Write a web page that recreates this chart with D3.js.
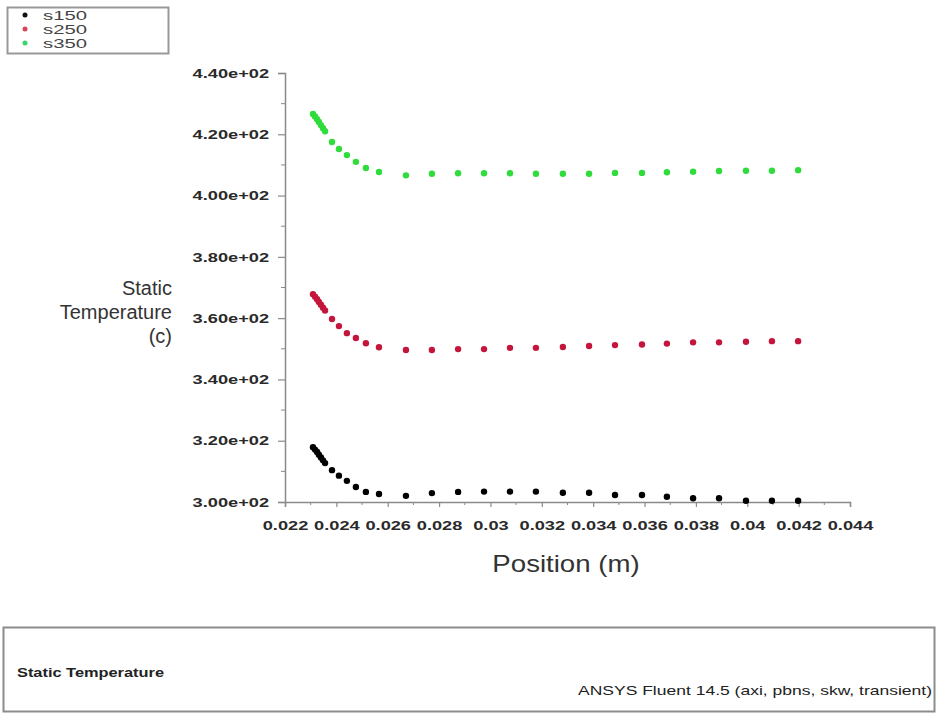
<!DOCTYPE html>
<html>
<head>
<meta charset="utf-8">
<script src="https://cdn.jsdelivr.net/npm/d3@7"></script>
<style>
  html, body { margin: 0; padding: 0; background: #fff; }
  svg { display: block; font-family: "Liberation Sans", Arial, sans-serif; }
</style>
</head>
<body>
<svg id="chart" width="937" height="715"></svg>
<script>
// Sample positions along the line (m)
const positions = [0.02309, 0.02317, 0.02325, 0.02332, 0.02340, 0.02348, 0.02356,
  0.02383, 0.02410, 0.02441, 0.02476, 0.02515, 0.02566, 0.02671, 0.02772, 0.02874,
  0.02975, 0.03076, 0.03177, 0.03282, 0.03384, 0.03485, 0.03590, 0.03687, 0.03789,
  0.03890, 0.03995, 0.04096, 0.04198];

// Static temperature (c) per case
const s150 = [317.9, 317.1, 316.3, 315.4, 314.5, 313.6, 312.7,
  310.4, 308.6, 306.9, 304.9, 303.3, 302.6, 302.0, 302.9, 303.3,
  303.4, 303.4, 303.4, 303.0, 303.0, 302.3, 302.3, 301.7, 301.2,
  301.2, 300.4, 300.4, 300.4];
const s250 = [367.8, 367.0, 366.2, 365.3, 364.4, 363.4, 362.5,
  359.7, 357.4, 355.1, 353.5, 351.8, 350.5, 349.6, 349.6, 349.9,
  349.9, 350.3, 350.3, 350.6, 350.9, 351.2, 351.4, 351.7, 352.1,
  352.1, 352.3, 352.5, 352.5];
const s350 = [426.6, 425.8, 424.9, 424.0, 423.0, 422.0, 421.0,
  417.5, 415.2, 413.2, 411.0, 409.0, 407.7, 406.6, 407.1, 407.3,
  407.3, 407.3, 407.1, 407.1, 407.1, 407.4, 407.4, 407.6, 407.8,
  408.0, 408.1, 408.1, 408.3];

const seriesNames = ["s150", "s250", "s350"];
const seriesColors = ["#000000", "#c4163c", "#2fdc3c"];
const legendColors = ["#111111", "#d4475a", "#3ad468"];

const xTicks = [0.022, 0.024, 0.026, 0.028, 0.03, 0.032, 0.034, 0.036, 0.038, 0.04, 0.042, 0.044];
const yTicks = [300, 320, 340, 360, 380, 400, 420, 440];

const svg = d3.select("#chart");

const x = d3.scaleLinear().domain([0.022, 0.044]).range([285, 850]);
const y = d3.scaleLinear().domain([300, 440]).range([502, 73]);

const axisColor = "#8a8a8a";
const textColor = "#333333";

// Widen glyphs horizontally (the viewer's fonts are set wide)
function widen(sel, factor) {
  sel.each(function () {
    const w = this.getComputedTextLength();
    d3.select(this).attr("textLength", w * factor).attr("lengthAdjust", "spacingAndGlyphs");
  });
}

// Minor ticks
const xMinor = d3.range(0.023, 0.044, 0.002);
const yMinor = d3.range(310, 440, 20);

const gx = svg.append("g").attr("transform", `translate(0,${y(300)})`);
gx.call(d3.axisBottom(x).tickValues(xTicks).tickFormat(d => String(+d.toFixed(3))).tickSizeOuter(0).tickSize(5).tickPadding(14));
gx.select(".domain").attr("stroke", axisColor).attr("stroke-width", 1.5);
gx.selectAll(".tick line").attr("stroke", axisColor).attr("stroke-width", 1.2);
gx.selectAll(".tick text").attr("fill", "#2a2a2a").attr("font-size", 13).attr("font-weight", "bold")
  .call(widen, 1.4);
gx.selectAll(".minor").data(xMinor).enter().append("line")
  .attr("x1", d => x(d)).attr("x2", d => x(d)).attr("y1", 0).attr("y2", 3)
  .attr("stroke", axisColor).attr("stroke-width", 1);

const gy = svg.append("g").attr("transform", `translate(${x(0.022)},0)`);
gy.call(d3.axisLeft(y).tickValues(yTicks).tickFormat(d => d3.format(".2e")(d).replace("e+2", "e+02")).tickSizeOuter(0).tickSize(7).tickPadding(9));
gy.select(".domain").attr("stroke", axisColor).attr("stroke-width", 1.5);
gy.selectAll(".tick line").attr("stroke", axisColor).attr("stroke-width", 1.2);
gy.selectAll(".tick text").attr("fill", "#2a2a2a").attr("font-size", 13).attr("font-weight", "bold")
  .call(widen, 1.4);
gy.selectAll(".minor").data(yMinor).enter().append("line")
  .attr("x1", -4).attr("x2", 0).attr("y1", d => y(d)).attr("y2", d => y(d))
  .attr("stroke", axisColor).attr("stroke-width", 1);

// Data points
const allSeries = [s150, s250, s350];
allSeries.forEach((vals, i) => {
  svg.append("g").selectAll("circle").data(vals).enter().append("circle")
    .attr("cx", (d, j) => x(positions[j]))
    .attr("cy", d => y(d))
    .attr("r", 3.2)
    .attr("fill", seriesColors[i]);
});

// Axis titles
const yTitle = svg.append("text").attr("text-anchor", "end").attr("fill", textColor)
  .attr("font-size", 20);
["Static", "Temperature", "(c)"].forEach((t, i) => {
  yTitle.append("tspan").attr("x", 172).attr("y", 295 + i * 24).text(t);
});
svg.append("text").attr("x", 566).attr("y", 572).attr("text-anchor", "middle")
  .attr("fill", textColor).attr("font-size", 24).text("Position (m)")
  .call(widen, 1.15);

// Legend
svg.append("rect").attr("x", 7.5).attr("y", 7.5).attr("width", 161).attr("height", 46)
  .attr("fill", "#fff").attr("stroke", "#999").attr("stroke-width", 2);
seriesNames.forEach((n, i) => {
  svg.append("circle").attr("cx", 25).attr("cy", 15 + i * 14).attr("r", 2.5).attr("fill", legendColors[i]);
  svg.append("text").attr("x", 43).attr("y", 20 + i * 14).attr("font-size", 13)
    .attr("textLength", 44).attr("lengthAdjust", "spacingAndGlyphs")
    .attr("fill", "#444").text(n);
});

// Info panel
svg.append("rect").attr("x", 3.5).attr("y", 627.5).attr("width", 931).attr("height", 84)
  .attr("fill", "#fff").attr("stroke", "#8c8c8c").attr("stroke-width", 2);
svg.append("text").attr("x", 17).attr("y", 677).attr("font-size", 12).attr("font-weight", "bold")
  .attr("textLength", 147).attr("lengthAdjust", "spacingAndGlyphs")
  .attr("fill", "#222").text("Static Temperature");
svg.append("text").attr("x", 578).attr("y", 695).attr("font-size", 13)
  .attr("textLength", 354).attr("lengthAdjust", "spacingAndGlyphs")
  .attr("fill", "#222").text("ANSYS Fluent 14.5 (axi, pbns, skw, transient)");
</script>
</body>
</html>
